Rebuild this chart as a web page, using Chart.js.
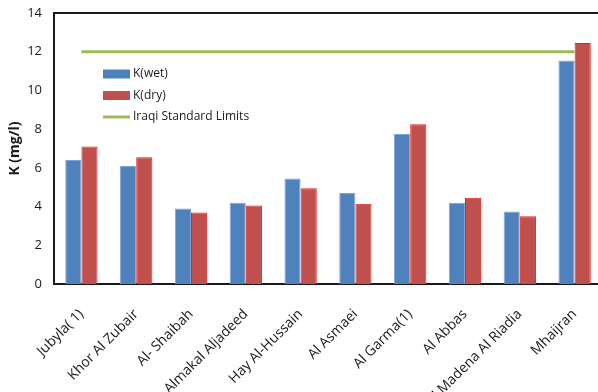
<!DOCTYPE html>
<html lang="en">

<head>
    <meta charset="UTF-8">
    <title>K (mg/l)</title>
    <script src="https://cdn.jsdelivr.net/npm/chart.js"></script>
    <style>
        html, body { margin: 0; padding: 0; background: #fff; overflow: hidden; }
        #wrap { width: 602px; height: 392px; }
    </style>
</head>

<body>
    <div id="wrap"><canvas id="myChart"></canvas></div>

    <script>
        const sites = ['Jubyla( 1)', 'Khor Al Zubair', 'Al- Shaibah', 'Almakal Aljadeed', 'Hay Al-Hussain',
            'Al Asmaei', 'Al Garma(1)', 'Al Abbas', 'Al Madena Al Riadia', 'Mhaijran'];
        const kWet = [6.4, 6.1, 3.9, 4.2, 5.45, 4.7, 7.75, 4.2, 3.75, 11.55];
        const kDry = [7.1, 6.55, 3.7, 4.05, 4.95, 4.15, 8.25, 4.45, 3.5, 12.45];
        const iraqiLimit = [12, 12, 12, 12, 12, 12, 12, 12, 12, 12];
        const yTicks = [0, 2, 4, 6, 8, 10, 12, 14];

        const FONT = "'Open Sans', sans-serif";
        const legendOrder = ['K(wet)', 'K(dry)', 'Iraqi Standard Limits'];

        // legend sits inside the plot, plus the top frame line
        const extras = {
            id: 'extras',
            afterDraw(chart) {
                const c = chart.ctx, a = chart.chartArea;
                c.save();
                c.strokeStyle = '#1a1a1a';
                c.lineWidth = 2;
                c.beginPath();
                c.moveTo(a.left - 1, a.top);
                c.lineTo(a.right, a.top);
                c.stroke();

                c.font = '12px ' + FONT;
                c.textBaseline = 'middle';
                legendOrder.forEach((name, i) => {
                    const ds = chart.data.datasets.find(d => d.label === name);
                    const y = 74 + i * 21.5;
                    const x = 103;
                    if (ds.type === 'line') {
                        c.strokeStyle = ds.borderColor;
                        c.lineWidth = 3;
                        c.beginPath();
                        c.moveTo(x, y);
                        c.lineTo(x + 27, y);
                        c.stroke();
                    } else {
                        c.fillStyle = ds.backgroundColor;
                        c.fillRect(x, y - 4.5, 27, 9);
                    }
                    c.fillStyle = '#1a1a1a';
                    c.fillText(ds.label, x + 30, y);
                });
                c.restore();
            }
        };

        new Chart(document.getElementById('myChart'), {
            data: {
                labels: sites,
                datasets: [{
                    type: 'line',
                    label: 'Iraqi Standard Limits',
                    data: iraqiLimit,
                    borderColor: '#9BBB59',
                    borderWidth: 3,
                    pointRadius: 0,
                    order: 0
                }, {
                    type: 'bar',
                    label: 'K(wet)',
                    data: kWet,
                    backgroundColor: '#4F81BD',
                    borderColor: '#7FA3D6',
                    borderWidth: 1,
                    order: 1
                }, {
                    type: 'bar',
                    label: 'K(dry)',
                    data: kDry,
                    backgroundColor: '#C0504D',
                    borderColor: '#E8201C',
                    borderWidth: 1,
                    order: 1
                }]
            },
            options: {
                responsive: true,
                maintainAspectRatio: false,
                animation: false,
                layout: { padding: { top: 13, right: 0, left: 0, bottom: 0 } },
                datasets: {
                    bar: { barPercentage: 1, categoryPercentage: 0.59 }
                },
                plugins: {
                    legend: { display: false },
                    tooltip: { enabled: false }
                },
                scales: {
                    x: {
                        grid: { display: false },
                        border: { display: true, color: '#1a1a1a', width: 2 },
                        ticks: {
                            minRotation: 45,
                            maxRotation: 45,
                            color: '#1a1a1a',
                            font: { family: FONT, size: 14 },
                            padding: 14
                        },
                        afterFit(scale) { scale.height = 108; }
                    },
                    y: {
                        min: 0,
                        max: 14,
                        afterBuildTicks(scale) { scale.ticks = yTicks.map(v => ({ value: v })); },
                        grid: { display: false },
                        border: { display: true, color: '#1a1a1a', width: 2 },
                        ticks: {
                            color: '#1a1a1a',
                            font: { family: FONT, size: 13 },
                            padding: 4
                        },
                        title: {
                            display: true,
                            text: 'K (mg/l)',
                            color: '#1a1a1a',
                            font: { family: FONT, size: 14, weight: 'bold' },
                            padding: { top: 7, bottom: 0 }
                        },
                        afterFit(scale) { scale.width = 54; }
                    }
                }
            },
            plugins: [extras]
        });
    </script>
</body>

</html>
